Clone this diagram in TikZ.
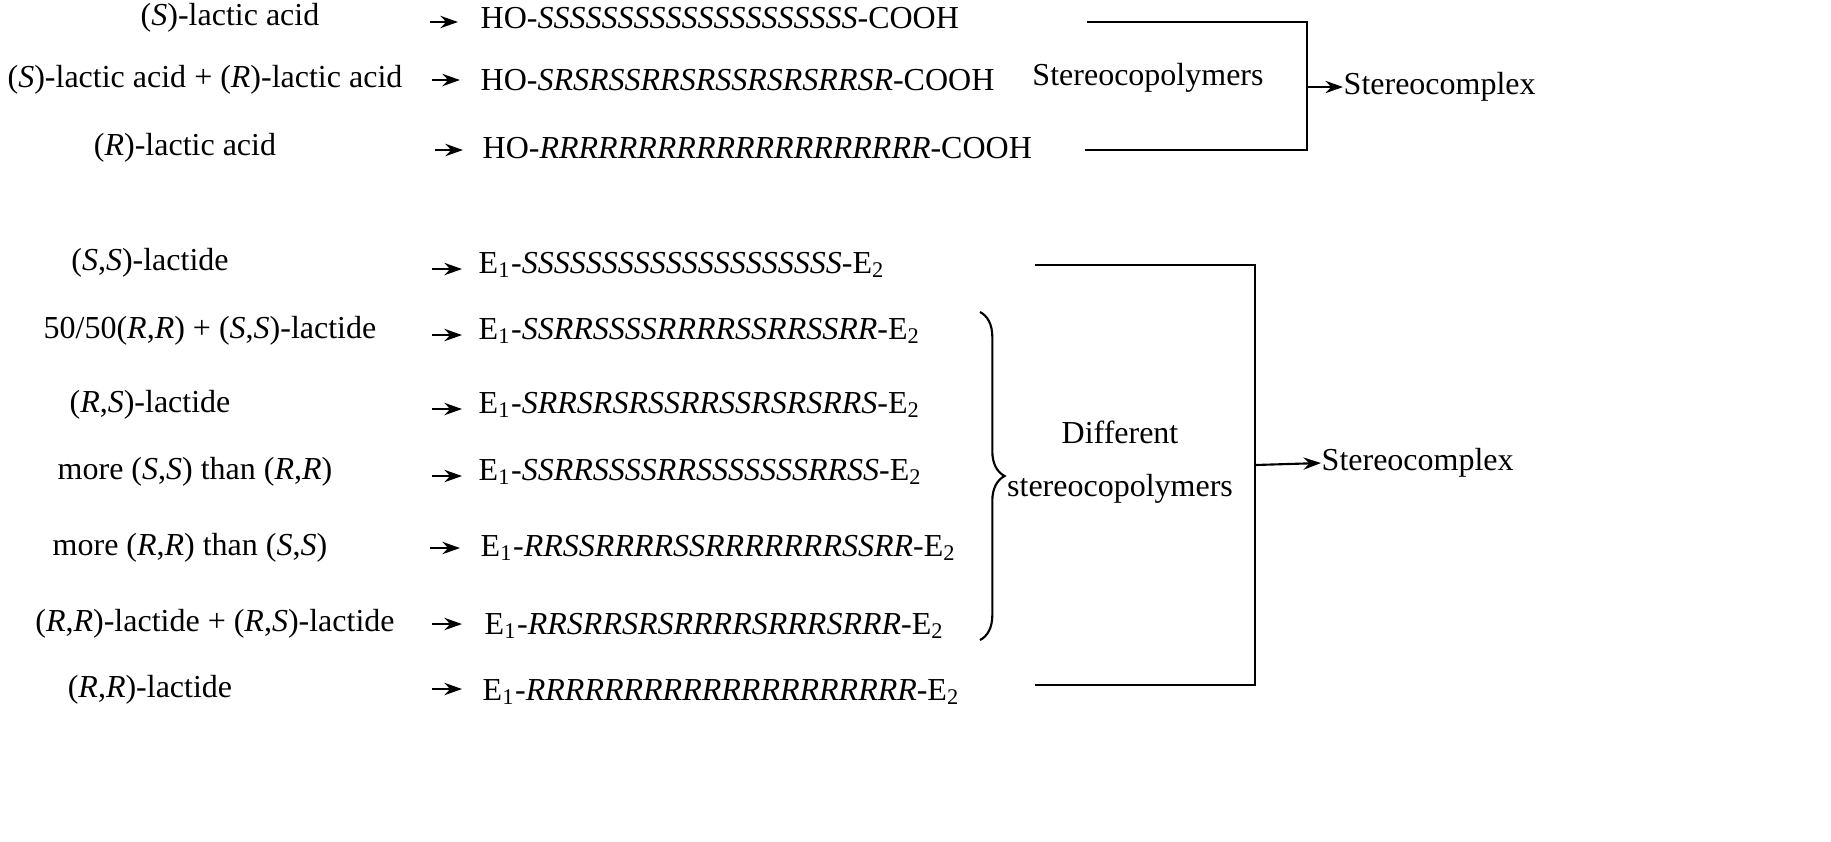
\documentclass[tikz,border=0pt]{standalone}
\usepackage{fontspec}
\setmainfont{Liberation Serif}
\usetikzlibrary{arrows.meta,decorations.pathreplacing}
\begin{document}
\begin{tikzpicture}[x=0.01cm,y=-0.01cm,
  every node/.style={font=\fontsize{9.1}{11}\selectfont,inner sep=0pt},
  seq/.style={anchor=west},
  sa/.style={-{Stealth[length=5pt,width=3.5pt]},line width=0.6pt},
  ln/.style={line width=0.6pt}]
\useasboundingbox (0,0) rectangle (1831,841);
% top group
\node (l1) at (230,18) {(\textit{S})-lactic acid};
\node (l2) at (205,80) {(\textit{S})-lactic acid + (\textit{R})-lactic acid};
\node (l3) at (185,148) {(\textit{R})-lactic acid};
\node[seq] (s1) at (480,18) {HO-\textit{SSSSSSSSSSSSSSSSSSSS}-COOH};
\node[seq] (s2) at (480,80) {HO-\textit{SRSRSSRRSRSSRSRSRRSR}-COOH};
\node[seq] (s3) at (482,148) {HO-\textit{RRRRRRRRRRRRRRRRRRRR}-COOH};
\foreach \y/\a in {22/430,80/432,150/435}{\draw[sa] (\a,\y) -- ++(28,0);}
\coordinate (t1) at (1307,22); \coordinate (t3) at (1307,150);
\draw[ln] (1087,22) -- (t1) -- (t3) -- (1085,150);
\node (sc1) at (1148,78) {Stereocopolymers};
\node[anchor=west] (x1) at (1343,87) {Stereocomplex};
\draw[sa] (1307,87) -- (x1.west);
% bottom group
\node (b1) at (150,263) {(\textit{S},\textit{S})-lactide};
\node (b2) at (210,331) {50/50(\textit{R},\textit{R}) + (\textit{S},\textit{S})-lactide};
\node (b3) at (150,405) {(\textit{R},\textit{S})-lactide};
\node (b4) at (195,472) {more (\textit{S},\textit{S}) than (\textit{R},\textit{R})};
\node (b5) at (190,548) {more (\textit{R},\textit{R}) than (\textit{S},\textit{S})};
\node (b6) at (215,624) {(\textit{R},\textit{R})-lactide + (\textit{R},\textit{S})-lactide};
\node (b7) at (150,690) {(\textit{R},\textit{R})-lactide};
\node[seq] (e1) at (478,265) {E\textsubscript{1}-\textit{SSSSSSSSSSSSSSSSSSSS}-E\textsubscript{2}};
\node[seq] (e2) at (478,331) {E\textsubscript{1}-\textit{SSRRSSSSRRRRSSRRSSRR}-E\textsubscript{2}};
\node[seq] (e3) at (478,405) {E\textsubscript{1}-\textit{SRRSRSRSSRRSSRSRSRRS}-E\textsubscript{2}};
\node[seq] (e4) at (478,472) {E\textsubscript{1}-\textit{SSRRSSSSRRSSSSSSSRRSS}-E\textsubscript{2}};
\node[seq] (e5) at (480,548) {E\textsubscript{1}-\textit{RRSSRRRRSSRRRRRRRSSRR}-E\textsubscript{2}};
\node[seq] (e6) at (484,626) {E\textsubscript{1}-\textit{RRSRRSRSRRRRSRRRSRRR}-E\textsubscript{2}};
\node[seq] (e7) at (482,692) {E\textsubscript{1}-\textit{RRRRRRRRRRRRRRRRRRRR}-E\textsubscript{2}};
\foreach \y/\a in {269/432,335/432,409/432,476/432,548/430,624/432,689/432}{\draw[sa] (\a,\y) -- ++(30,0);}
\coordinate (u1) at (1255,265); \coordinate (u7) at (1255,685);
\draw[ln] (1035,265) -- (u1) -- (u7) -- (1035,685);
\draw[ln,decorate,decoration={brace,amplitude=7pt}] (980,312) -- (980,640);
\node[align=center] (dc) at (1120,462) {Different\\[4pt]stereocopolymers};
\node[anchor=west] (x2) at (1321,463) {Stereocomplex};
\draw[sa] (1255,465) -- (x2.west);
\end{tikzpicture}
\end{document}
